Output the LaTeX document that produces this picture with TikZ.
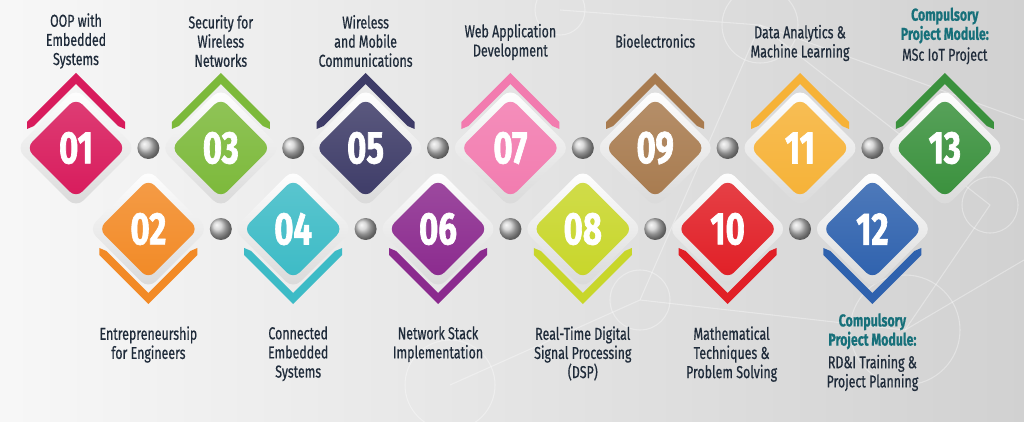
\documentclass[tikz,border=0pt]{standalone}
\usepackage{fontspec}
\setmainfont{Fira Sans}[FakeStretch=0.72, FakeBold=0.6]
\newfontfamily\numfont{Fira Sans}[FakeStretch=0.72, BoldFeatures={FakeBold=1.4}]
\usetikzlibrary{shapes.geometric}
\definecolor{c01}{HTML}{D81B5C}
\definecolor{c02}{HTML}{F28A26}
\definecolor{c03}{HTML}{7CB93A}
\definecolor{c04}{HTML}{3DBBC6}
\definecolor{c05}{HTML}{3E3C68}
\definecolor{c06}{HTML}{8B2A8E}
\definecolor{c07}{HTML}{F27BAF}
\definecolor{c08}{HTML}{C8D62A}
\definecolor{c09}{HTML}{A87B4F}
\definecolor{c10}{HTML}{E11F26}
\definecolor{c11}{HTML}{F6B237}
\definecolor{c12}{HTML}{2F62AE}
\definecolor{c13}{HTML}{3A913D}
\definecolor{txt}{HTML}{1F2B3A}
\definecolor{head}{HTML}{17707A}
\newcommand\headfont{\color{head}\bfseries}
\tikzset{
  hat/.pic={\path[pic actions] (-49,-26) -- (0,-75) -- (49,-26) -- (49,-19) -- (42,-22) -- (0,-64) -- (-42,-22) -- (-49,-19) -- cycle;}
}

\begin{document}
\begin{tikzpicture}[x=0.02cm, y=-0.02cm,
  module/.style={diamond, minimum width=2cm, minimum height=2cm, inner sep=0pt, rounded corners=5pt,
    text=white, font=\numfont\bfseries\fontsize{26}{26}\selectfont},
  rim/.style={diamond, minimum width=2.4cm, minimum height=2.4cm, inner sep=0pt, rounded corners=6pt,
    top color=white, bottom color=black!15},
  joint/.style={circle, minimum size=0.44cm, inner sep=0pt, shading=ball, ball color=black!20},
  modtext/.style={align=center, inner sep=0pt, text=txt, font=\fontsize{9.8}{10.9}\selectfont}]
  \useasboundingbox (0,0) rectangle (1024,422);
  % background
  \shade[left color=black!3, right color=black!18] (0,0) rectangle (1024,422);
  \begin{scope}[white, line width=0.6pt, opacity=0.35]
    \clip (0,0) rectangle (1024,422);
    \draw (760,25) circle (38); \draw (905,330) circle (55); \draw (450,385) circle (45);
    \draw (990,205) circle (28); \draw (640,300) circle (30); \draw (560,10) circle (25);
    \draw (560,10) -- (760,25) -- (990,205) -- (905,330) -- (640,300) -- (450,385);
    \draw (760,25) -- (1024,120); \draw (640,300) -- (760,25); \draw (905,330) -- (1024,260);
  \end{scope}
  % modules
  \foreach \i/\n/\c in {1/01/c01,2/02/c02,3/03/c03,4/04/c04,5/05/c05,6/06/c06,7/07/c07,
      8/08/c08,9/09/c09,10/10/c10,11/11/c11,12/12/c12,13/13/c13}{
    \pgfmathsetmacro\px{76+72.4*(\i-1)}
    \pgfmathsetmacro\py{isodd(\i) ? 148 : 229}
    \pgfmathsetmacro\flip{isodd(\i) ? 1 : -1}
    \node[rim] (r\n) at (\px,\py) {};
    \node[module, top color=\c!85!white, bottom color=\c] (m\n) at (\px,\py) {\n};
    \pic[fill=\c, yscale=\flip] at (m\n) {hat};
  }
  % joints between the modules
  \foreach \n in {02,04,06,08,10,12} \node[joint] (t\n) at (m\n |- m01) {};
  \foreach \n in {03,05,07,09,11} \node[joint] (u\n) at (m\n |- m02) {};
  % top texts
  \node[modtext] (l01) at (m01 |- 0,41) {OOP with\\Embedded\\Systems};
  \node[modtext] (l03) at (m03 |- 0,41) {Security for\\Wireless\\Networks};
  \node[modtext] (l05) at (m05 |- 0,41) {Wireless\\and Mobile\\Communications};
  \node[modtext] (l07) at (m07 |- 0,42) {Web Application\\Development};
  \node[modtext] (l09) at (m09 |- 0,41) {Bioelectronics};
  \node[modtext] (l11) at (m11 |- 0,43) {Data Analytics \&\\Machine Learning};
  \node[modtext] (l13) at (m13 |- 0,36) {{\headfont Compulsory}\\{\headfont Project Module:}\\[1pt]MSc IoT Project};
  % bottom texts
  \node[modtext, anchor=north] (l02) at (m02 |- 0,326) {Entrepreneurship\\for Engineers};
  \node[modtext, anchor=north] (l04) at ([xshift=0.1cm]m04 |- 0,326) {Connected\\Embedded\\Systems};
  \node[modtext, anchor=north] (l06) at (m06 |- 0,326) {Network Stack\\Implementation};
  \node[modtext, anchor=north] (l08) at (m08 |- 0,326) {Real-Time Digital\\Signal Processing\\(DSP)};
  \node[modtext, anchor=north] (l10) at ([xshift=0.08cm]m10 |- 0,326) {Mathematical\\Techniques \&\\Problem Solving};
  \node[modtext, anchor=north] (l12) at (m12 |- 0,313) {{\headfont Compulsory}\\{\headfont Project Module:}\\[2pt]RD\&I Training \&\\Project Planning};
\end{tikzpicture}
\end{document}
